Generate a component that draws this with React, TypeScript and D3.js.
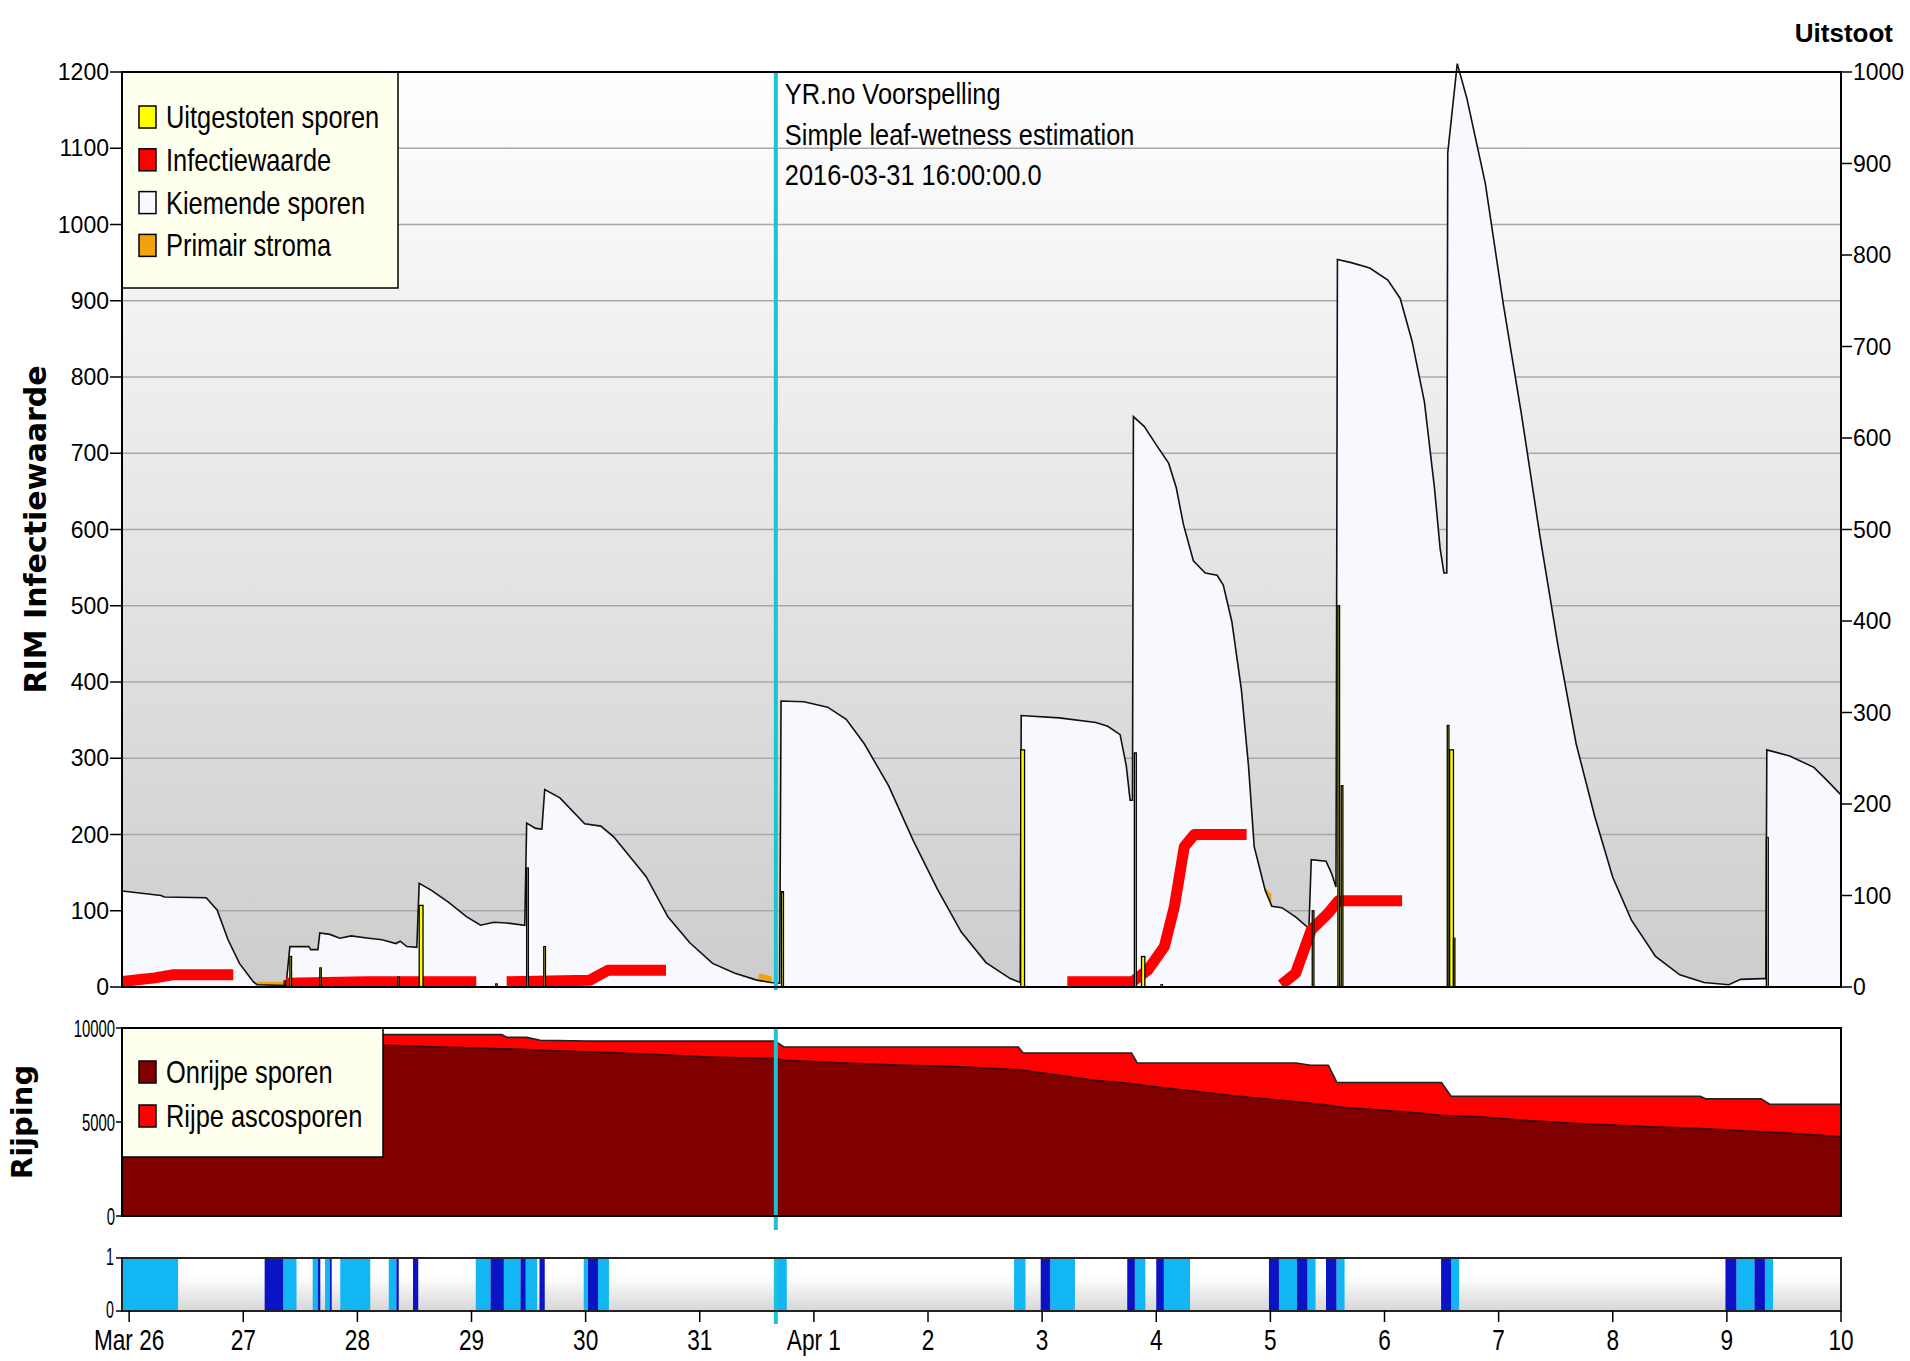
import * as d3 from "d3";

// all times are hours since 2016-03-26 00:00 (UTC)
const T0 = Date.UTC(2016, 2, 26);
const at = (h: number) => new Date(T0 + h * 3600000);

// Kiemende sporen [hour, value]
const kiemendeSporen: [number, number][] = [
  [-1.5, 126], [6.7, 120], [7.4, 118], [16.2, 117], [18.5, 101], [20.8, 62], [23.2, 31], [26.1, 7],
  [26.9, 3], [33, 2], [33.8, 53], [37.8, 53], [38.2, 49], [39.7, 49], [40.1, 71], [42.2, 69],
  [44.3, 64], [46.7, 67], [50.4, 64], [53.2, 62], [56.1, 57], [57, 60], [58.4, 53], [60.5, 52],
  [61, 136], [63.5, 127], [67.2, 111], [71, 92], [73.9, 81], [76.7, 85], [79.4, 84], [83.2, 81],
  [83.6, 215], [85.5, 208], [86.8, 207], [87.4, 259], [90.6, 248], [95.8, 214], [99.2, 211],
  [101.9, 197], [108.7, 145], [113.3, 92], [117.9, 58], [122.7, 31], [127.4, 18], [132, 9],
  [134.9, 6], [136.8, 5], [137.1, 375], [141.9, 374], [146.9, 367], [150.8, 351], [154.6, 319],
  [159.7, 264], [164.9, 192], [170, 128], [175, 72], [180.2, 32], [185.3, 11], [187.4, 6],
  [187.6, 356], [195.6, 353], [203.3, 347], [205.8, 342], [208.4, 331], [209.7, 290], [210.5, 245],
  [211, 245], [211.2, 748], [213.5, 735], [216, 711], [218.6, 687], [220.2, 655], [221.7, 607],
  [223.8, 559], [226.3, 543], [228.8, 540], [230.1, 527], [231.9, 479], [233.9, 390], [235.4, 290],
  [236.6, 184], [238.9, 127], [240.3, 106], [242.4, 104], [245.3, 92], [248.1, 77], [248.6, 167],
  [251.7, 165], [252.8, 150], [253.8, 131], [254.1, 954], [257, 950], [260.9, 943], [264.7, 927],
  [267.3, 903], [269.8, 847], [272.4, 767], [274.5, 655], [275.7, 575], [276.5, 543], [277.1, 543],
  [277.3, 1094], [279.3, 1211], [281.3, 1166], [285.2, 1054], [289, 895], [292.8, 751], [296.7, 591],
  [300.5, 447], [304.3, 319], [308.2, 224], [312, 144], [315.9, 88], [321, 40], [326.1, 16],
  [331.2, 6], [336.4, 3], [338.9, 10], [343.5, 11], [344.2, 11], [344.4, 311], [349.2, 303],
  [354.3, 288], [356.9, 272], [360, 252],
];

// Primair stroma [hour, value]
const primairStroma: [number, number][] = [
  [26.5, 0], [27, 7], [32.5, 7], [33, 0], [132, 0], [132.5, 18], [135, 14], [135.5, 0],
  [238.5, 0], [238.6, 132], [240.2, 122], [240.3, 0],
];

// Uitgestoten sporen [hour, value, duration in hours]
const uitgestotenSporen: [number, number, number][] = [
  [32.6, 8, 0.3], [33.8, 40, 0.35], [40.1, 25, 0.3], [56.5, 13, 0.3], [61, 107, 0.8], [77.1, 4, 0.3],
  [83.6, 156, 0.35], [87.2, 53, 0.35], [137.2, 125, 0.4], [187.5, 311, 0.8], [211.4, 307, 0.4],
  [212.9, 40, 0.7], [217, 3, 0.3], [248.8, 100, 0.35], [254.2, 500, 0.35], [254.9, 264, 0.35],
  [277.2, 343, 0.35], [277.7, 311, 0.8], [278.5, 64, 0.3], [344.3, 196, 0.4],
];

// Infectiewaarde [hour, value], null = gap
const infectiewaarde: ([number, number] | null)[] = [
  [-1.5, 7], [5.4, 12], [9.1, 16], [21.9, 16], null,
  [33, 5], [50, 7], [73, 7], null,
  [79.4, 7], [96.9, 9], [100.7, 22], [112.9, 22], null,
  [197.3, 7], [211, 7], [214.2, 22], [217.7, 53], [219.8, 105], [221.9, 184], [224, 200], [235, 200], null,
  [242.3, 3], [245.3, 18], [248.6, 75], [252.2, 97], [254.3, 113], [267.7, 113],
];

// Rijping
const rijpHours = [-1.5, 53.7, 65.6, 78.4, 79.5, 83.6, 86.5, 96.5, 110, 122.1, 135.8, 137.7, 153, 163.3,
  172.6, 187, 188, 203, 210.8, 212, 213.2, 231.3, 245.4, 248.5, 252.2, 254, 272.5, 276, 278, 282.8,
  293.1, 304.7, 320, 330.4, 331.5, 343.2, 345, 355, 360];
const onrijpeSporen = [9600, 9081, 8990, 8900, 8890, 8853, 8820, 8729, 8600, 8460, 8375, 8287, 8110, 8010,
  7960, 7780, 7753, 7222, 7050, 7000, 6957, 6426, 6070, 6000, 5900, 5804, 5450, 5350, 5330, 5293,
  5098, 4923, 4743, 4655, 4640, 4477, 4460, 4301, 4212];
const rijpeAscosporen = [350, 569, 660, 750, 610, 647, 530, 571, 700, 840, 925, 704, 881, 981,
  1031, 1211, 920, 1451, 1623, 1141, 1184, 1715, 2071, 2017, 2117, 1296, 1650, 1750, 1043, 1080,
  1275, 1450, 1630, 1718, 1592, 1755, 1488, 1647, 1736];

// bladnat [start, end] hours
const natLicht: [number, number][] = [
  [-1.5, 10.3], [32.4, 35.2], [38.6, 39.7], [41.2, 42.2], [44.4, 50.7], [54.6, 56.2], [72.9, 76],
  [78.8, 82.3], [83.4, 85.8], [95.6, 96.5], [98.6, 100.9], [136, 138.3], [186.1, 188.5], [193.7, 198.9],
  [211.5, 213.7], [217.6, 223.1], [241.8, 245.6], [247.8, 249.5], [253.9, 255.6], [278, 279.7],
  [338, 341.8], [344, 345.7],
];
const natDonker: [number, number][] = [
  [28.5, 32.4], [39.7, 40.2], [42.2, 42.6], [56.2, 56.7], [59.7, 60.8], [76, 78.8], [82.3, 83.4],
  [86.3, 87.4], [96.5, 98.6], [191.7, 193.7], [209.9, 211.5], [216, 217.6], [239.7, 241.8],
  [245.6, 247.8], [251.7, 253.9], [275.9, 278], [335.7, 338], [341.8, 344],
];

const leftTicks = d3.range(0, 1201, 100);
const rightTicks = d3.range(0, 1001, 100);
const rijpTicks = [0, 5000, 10000];
const stripTicks = [0, 1];
const forecastHour = 136; // 2016-03-31 16:00
const noteLines = ["YR.no Voorspelling", "Simple leaf-wetness estimation", "2016-03-31 16:00:00.0"];
const legendMain = [
  { label: "Uitgestoten sporen", color: "#ffff00" },
  { label: "Infectiewaarde", color: "#ff0000" },
  { label: "Kiemende sporen", color: "#f8f8ff" },
  { label: "Primair stroma", color: "#f2a20c" },
];
const legendRijp = [
  { label: "Onrijpe sporen", color: "#800000" },
  { label: "Rijpe ascosporen", color: "#ff0000" },
];

const W = 1910, H = 1361;
const L = 122, R = 1841;
const main = { top: 72, bottom: 987 };
const mid = { top: 1028, bottom: 1216 };
const strip = { top: 1258, bottom: 1311 };

const x = d3.scaleUtc().domain([at(-1.5), at(360)]).range([L, R]);
const yL = d3.scaleLinear().domain([0, 1200]).range([main.bottom, main.top]);
const yR = d3.scaleLinear().domain([0, 1000]).range([main.bottom, main.top]);
const yM = d3.scaleLinear().domain([0, 10000]).range([mid.bottom, mid.top]);
const yS = d3.scaleLinear().domain([0, 1]).range([strip.bottom, strip.top]);

const VERDANA = "'DejaVu Sans', Verdana, sans-serif";
const ARIAL = "'Liberation Sans', Arial, sans-serif";

const Narrow = ({ x, y, size, anchor = "start", sx = 0.82, bold = false, children }: any) => (
  <text transform={`translate(${x},${y}) scale(${sx},1)`} fontFamily={ARIAL} fontSize={size}
    fontWeight={bold ? "bold" : "normal"} textAnchor={anchor} fill="#000">{children}</text>
);

export default function App() {
  const hx = (h: number) => x(at(h));

  const kArea = d3.area<[number, number]>().x((d) => hx(d[0])).y0(yL(0)).y1((d) => yL(d[1]));
  const kLine = d3.line<[number, number]>().x((d) => hx(d[0])).y((d) => yL(d[1]));
  const infLine = d3.line<[number, number] | null>()
    .defined((d) => d !== null)
    .x((d) => hx(d![0]))
    .y((d) => yL(d![1]));

  const rows = rijpHours.map((h, i) => ({ h, onrijpe: onrijpeSporen[i], rijpe: rijpeAscosporen[i] }));
  const stacked = d3.stack<any>().keys(["onrijpe", "rijpe"])(rows);
  const sArea = d3.area<any>().x((d) => hx(d.data.h)).y0((d) => yM(d[0])).y1((d) => yM(d[1]));
  const sTop = d3.line<any>().x((d) => hx(d.data.h)).y((d) => yM(d[1]));

  const days = d3.utcDay.range(at(0), at(361));
  const dayLabel = (d: Date, i: number) =>
    i === 0 || d.getUTCDate() === 1 ? d3.utcFormat("%b %-d")(d) : d3.utcFormat("%-d")(d);

  const cx = hx(forecastHour);

  return (
    <svg width={W} height={H} style={{ position: "absolute", left: 0, top: 0, background: "#fff" }}>
      <defs>
        <linearGradient id="gMain" x1="0" y1="0" x2="0" y2="1">
          <stop offset="0" stopColor="#ffffff" />
          <stop offset="1" stopColor="#cdcdcd" />
        </linearGradient>
        <linearGradient id="gStrip" x1="0" y1="0" x2="0" y2="1">
          <stop offset="0.35" stopColor="#ffffff" />
          <stop offset="1" stopColor="#d6d6d6" />
        </linearGradient>
        <clipPath id="cMain">
          <rect x={L} y={40} width={R - L} height={main.bottom - 40} />
        </clipPath>
        <clipPath id="cMid">
          <rect x={L} y={mid.top} width={R - L} height={mid.bottom - mid.top} />
        </clipPath>
      </defs>

      {/* ---------- main panel ---------- */}
      <rect x={L} y={main.top} width={R - L} height={main.bottom - main.top} fill="url(#gMain)" />
      {leftTicks.slice(1, -1).map((t) => (
        <line key={t} x1={L} x2={R} y1={yL(t)} y2={yL(t)} stroke="#a8a8a8" strokeWidth={1.5} />
      ))}
      <g clipPath="url(#cMain)">
        <path d={kArea(primairStroma)!} fill="#f2a20c" />
        <path d={kArea(kiemendeSporen)!} fill="#f8f8ff" />
        <path d={kLine(kiemendeSporen)!} fill="none" stroke="#111" strokeWidth={1.6} />
        <path d={infLine(infectiewaarde)!} fill="none" stroke="#ff0000" strokeWidth={11} strokeLinejoin="round" />
        {uitgestotenSporen.map(([h, v, w], i) => (
          <rect key={i} x={hx(h)} y={yL(v)} width={hx(h + w) - hx(h)} height={yL(0) - yL(v)}
            fill="#ffff00" stroke="#000" strokeWidth={1.3} />
        ))}
      </g>
      <line x1={cx} x2={cx} y1={main.top} y2={main.bottom + 3} stroke="#1cc3d2" strokeWidth={4} />
      {noteLines.map((s, i) => (
        <Narrow key={s} x={cx + 9} y={104 + i * 40.5} size={29} sx={0.875}>{s}</Narrow>
      ))}
      <rect x={L} y={main.top} width={276} height={216} fill="#ffffee" stroke="#000" strokeWidth={1.5} />
      {legendMain.map((it, i) => (
        <g key={it.label}>
          <rect x={139} y={106 + i * 42.8} width={17} height={22} fill={it.color} stroke="#000" strokeWidth={1.5} />
          <Narrow x={166} y={128 + i * 42.8} size={31}>{it.label}</Narrow>
        </g>
      ))}
      <rect x={L} y={main.top} width={R - L} height={main.bottom - main.top} fill="none" stroke="#000" strokeWidth={2} />
      {leftTicks.map((t) => (
        <g key={t}>
          <line x1={L - 12} x2={L} y1={yL(t)} y2={yL(t)} stroke="#000" strokeWidth={1.5} />
          <text x={L - 13} y={yL(t) + 8} textAnchor="end" fontFamily={ARIAL} fontSize={23}>{t}</text>
        </g>
      ))}
      {rightTicks.map((t) => (
        <g key={t}>
          <line x1={R} x2={R + 11} y1={yR(t)} y2={yR(t)} stroke="#000" strokeWidth={1.5} />
          <text x={R + 12} y={yR(t) + 8} fontFamily={ARIAL} fontSize={23}>{t}</text>
        </g>
      ))}
      <text x={1893} y={42} textAnchor="end" fontFamily={ARIAL} fontWeight="bold" fontSize={26}>Uitstoot</text>
      <text transform={`translate(46,${(main.top + main.bottom) / 2}) rotate(-90)`} textAnchor="middle"
        fontFamily={VERDANA} fontWeight="bold" fontSize={30}>RIM Infectiewaarde</text>

      {/* ---------- rijping panel ---------- */}
      <rect x={L} y={mid.top} width={R - L} height={mid.bottom - mid.top} fill="#fff" />
      <g clipPath="url(#cMid)">
        {stacked.map((s, i) => (
          <path key={s.key} d={sArea(s)!} fill={i === 0 ? "#800000" : "#ff0000"} />
        ))}
        {stacked.map((s, i) => (
          <path key={s.key + "t"} d={sTop(s)!} fill="none" stroke={i === 0 ? "#3c0000" : "#222"} strokeWidth={1.6} />
        ))}
      </g>
      <line x1={cx} x2={cx} y1={mid.top} y2={mid.bottom + 14} stroke="#1cc3d2" strokeWidth={4} />
      <rect x={L} y={mid.top} width={261} height={129} fill="#ffffee" stroke="#000" strokeWidth={1.5} />
      {legendRijp.map((it, i) => (
        <g key={it.label}>
          <rect x={139} y={1061 + i * 44} width={17} height={22} fill={it.color} stroke="#000" strokeWidth={1.5} />
          <Narrow x={166} y={1083 + i * 44} size={31}>{it.label}</Narrow>
        </g>
      ))}
      <rect x={L} y={mid.top} width={R - L} height={mid.bottom - mid.top} fill="none" stroke="#000" strokeWidth={2} />
      {rijpTicks.map((t) => (
        <g key={t}>
          <line x1={L - 6} x2={L} y1={yM(t)} y2={yM(t)} stroke="#000" strokeWidth={1.5} />
          <Narrow x={L - 7} y={yM(t) + 8.5} size={24} sx={0.62} anchor="end">{t}</Narrow>
        </g>
      ))}
      <text transform={`translate(32,${(mid.top + mid.bottom) / 2}) rotate(-90)`} textAnchor="middle"
        fontFamily={VERDANA} fontWeight="bold" fontSize={29}>Rijping</text>

      {/* ---------- leaf wetness strip ---------- */}
      <rect x={L} y={strip.top} width={R - L} height={strip.bottom - strip.top} fill="url(#gStrip)" />
      {natLicht.map(([a, b], i) => (
        <rect key={"l" + i} x={hx(a)} y={yS(1)} width={hx(b) - hx(a)} height={yS(0) - yS(1)} fill="#12b6f2" />
      ))}
      {natDonker.map(([a, b], i) => (
        <rect key={"d" + i} x={hx(a)} y={yS(1)} width={hx(b) - hx(a)} height={yS(0) - yS(1)} fill="#0a14c4" />
      ))}
      <line x1={cx} x2={cx} y1={strip.top} y2={strip.bottom + 13} stroke="#1cc3d2" strokeWidth={4} />
      <rect x={L} y={strip.top} width={R - L} height={strip.bottom - strip.top} fill="none" stroke="#222" strokeWidth={2} />
      {stripTicks.map((t) => (
        <g key={t}>
          <line x1={L - 6} x2={L} y1={yS(t)} y2={yS(t)} stroke="#000" strokeWidth={1.5} />
          <Narrow x={L - 8} y={yS(t) + 7} size={23} sx={0.62} anchor="end">{t}</Narrow>
        </g>
      ))}
      {days.map((d, i) => (
        <g key={i}>
          <line x1={x(d)} x2={x(d)} y1={strip.bottom} y2={strip.bottom + 11} stroke="#000" strokeWidth={1.5} />
          <Narrow x={x(d)} y={1350} size={29} sx={0.78} anchor="middle">{dayLabel(d, i)}</Narrow>
        </g>
      ))}
    </svg>
  );
}
